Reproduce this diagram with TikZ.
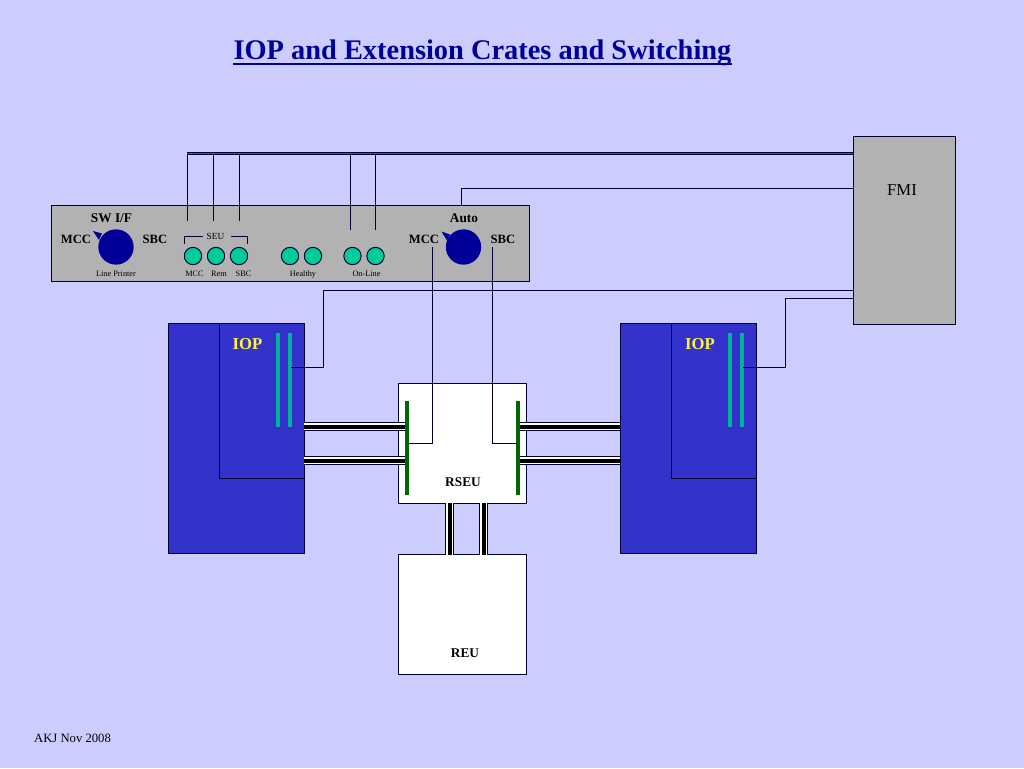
\documentclass[tikz,border=0pt]{standalone}
\usepackage{fontspec}
\setmainfont{Liberation Serif}
\definecolor{slidebg}{HTML}{CCCCFF}
\definecolor{panelgrey}{HTML}{B2B2B2}
\definecolor{iopblue}{HTML}{3333CC}
\definecolor{knobblue}{HTML}{000099}
\definecolor{ledteal}{HTML}{00CC99}
\definecolor{barteal}{HTML}{00B299}
\definecolor{bargreen}{HTML}{006600}
\definecolor{linenavy}{HTML}{000033}
\begin{document}
\begin{tikzpicture}[x=0.75pt, y=-0.75pt, line width=0.75pt,
	box/.style={draw=linenavy, rectangle, inner sep=0pt, outer sep=0pt},
	iopbox/.style={box, fill=iopblue, minimum width=102pt, minimum height=172.5pt},
	crate/.style={box, fill=white, minimum width=96pt, minimum height=89.5pt},
	tealbar/.style={rectangle, fill=barteal, inner sep=0pt, minimum width=3pt, minimum height=70.5pt},
	greenbar/.style={rectangle, fill=bargreen, inner sep=0pt, minimum width=3.4pt, minimum height=70.5pt},
	led/.style={circle, draw=linenavy, fill=ledteal, inner sep=0pt, minimum size=13pt},
	knob/.style={circle, fill=knobblue, inner sep=0pt, minimum size=26.5pt},
	wire/.style={draw=linenavy},
	topbus/.style={draw=linenavy, line width=0.9pt, double=linenavy!60!slidebg, double distance=0.6pt},
	bus/.style={preaction={draw=linenavy, line width=6.6pt}, preaction={draw=white, line width=5.2pt}, draw=black, line width=3pt},
	small/.style={font=\fontsize{6.2}{7}\selectfont},
	bold/.style={font=\fontsize{10}{12}\selectfont\bfseries},
	sidebold/.style={font=\fontsize{9.5}{11}\selectfont\bfseries},
	ioplabel/.style={font=\fontsize{12.5}{15}\selectfont\bfseries, text=yellow!80!white}]
	\fill[slidebg] (0,0) rectangle (1024,768);

	% boxes
	\node[box, fill=panelgrey, minimum width=358.5pt, minimum height=57pt] (panel) at (290,243) {};
	\node[box, fill=panelgrey, minimum width=76.5pt, minimum height=141pt] (fmi) at (904,230) {};
	\node[iopbox] (iopL) at (236,438) {};
	\node[iopbox] (iopR) at (688.5,438) {};
	\node[crate] (rseu) at (462,443.5) {};
	\node[crate] (reu) at (462,614.5) {};

	% links between the crates
	\coordinate (busLa) at (304,426.5);
	\coordinate (busLb) at (304,460.5);
	\coordinate (busRa) at (620,426.5);
	\coordinate (busRb) at (620,460.5);
	\coordinate (busDa) at (449.7,503);
	\coordinate (busDb) at (483.5,503);
	\node[greenbar] (greenL) at (407,448) {};
	\node[greenbar] (greenR) at (518,448) {};
	\draw[bus] (busLa) -- (busLa -| greenL.center);
	\draw[bus] (busLb) -- (busLb -| greenL.center);
	\draw[bus] (busRa) -- (busRa -| greenR.center);
	\draw[bus] (busRb) -- (busRb -| greenR.center);
	\draw[bus] (busDa) -- (busDa |- reu.north);
	\draw[bus] (busDb) -- (busDb |- reu.north);
	\node[greenbar] (greenLtop) at (greenL) {};
	\node[greenbar] (greenRtop) at (greenR) {};

	% inner card edges and card bars
	\coordinate (cardLtop) at (219,323);
	\coordinate (cardLend) at (304,478);
	\coordinate (cardRtop) at (671,323);
	\coordinate (cardRend) at (757,478);
	\draw[wire] (cardLtop) |- (cardLend);
	\draw[wire] (cardRtop) |- (cardRend);
	\node[tealbar] (tealLa) at (278,380) {};
	\node[tealbar] (tealLb) at (290,380) {};
	\node[tealbar] (tealRa) at (730,380) {};
	\node[tealbar] (tealRb) at (742,380) {};

	% bus from the FMI and its taps
	\coordinate (topstart) at (187,153.5);
	\coordinate (tapa) at (187,221);
	\coordinate (tapb) at (213,221);
	\coordinate (tapc) at (239,221);
	\coordinate (tapd) at (350,230);
	\coordinate (tape) at (375.5,230);
	\draw[wire] (tapa) -- (tapa |- topstart);
	\draw[wire] (tapb) -- (tapb |- topstart);
	\draw[wire] (tapc) -- (tapc |- topstart);
	\draw[wire] (tapd) -- (tapd |- topstart);
	\draw[wire] (tape) -- (tape |- topstart);
	\draw[topbus] (topstart) -- (topstart -| fmi.west);

	% single wires
	\coordinate (autotap) at (461,205);
	\coordinate (fmiauto) at (853,188);
	\coordinate (fmiL) at (853,290);
	\coordinate (fmiR) at (853,298);
	\coordinate (outL) at (291,367);
	\coordinate (outR) at (743,367);
	\coordinate (autoM) at (432.5,247);
	\coordinate (autoS) at (492.5,247);
	\coordinate (inM) at (409,443);
	\coordinate (inS) at (517,443);
	\draw[wire] (autotap) |- (fmiauto);
	\draw[wire] (outL) -- ++(32,0) |- (fmiL);
	\draw[wire] (outR) -- ++(42,0) |- (fmiR);
	\draw[wire] (autoM) |- (inM);
	\draw[wire] (autoS) |- (inS);

	% switches
	\node[knob] (knobA) at (116,247) {};
	\node[knob] (knobB) at (463.5,247) {};
	\fill[knobblue] (93,231) -- (102,233.5) -- (99,240) -- cycle;
	\fill[knobblue] (441.5,231.5) -- (450,234.5) -- (447,240.5) -- cycle;

	% lamps
	\node[led] (ledMCC) at (193,256) {};
	\node[led] (ledRem) at (216,256) {};
	\node[led] (ledSBC) at (239,256) {};
	\node[led] (ledHa) at (290,256) {};
	\node[led] (ledHb) at (313,256) {};
	\node[led] (ledOa) at (352.5,256) {};
	\node[led] (ledOb) at (375.5,256) {};

	% SEU bracket
	\coordinate (brLa) at (184,244);
	\coordinate (brLb) at (203,236);
	\coordinate (brRa) at (247,244);
	\coordinate (brRb) at (231,236);
	\draw[wire] (brLa) |- (brLb);
	\draw[wire] (brRa) |- (brRb);

	% texts
	\node[font=\fontsize{21.3}{25}\selectfont\bfseries, text=knobblue, anchor=base, inner xsep=0pt] (title) at (482.5,59.5) {IOP and Extension Crates and Switching};
	\draw[knobblue, line width=1.5pt] ([yshift=-3pt]title.base west) -- ([yshift=-3pt]title.base east);
	\node[font=\fontsize{12.5}{15}\selectfont] (fmitext) at (902,190) {FMI};
	\node[bold] (swif) at (111.5,218) {SW I/F};
	\node[sidebold] (mccA) at (76,239) {MCC};
	\node[sidebold] (sbcA) at (155,239) {SBC};
	\node[bold] (auto) at (464,218) {Auto};
	\node[sidebold] (mccB) at (424,239) {MCC};
	\node[sidebold] (sbcB) at (503,239) {SBC};
	\node[font=\fontsize{7}{8}\selectfont] (seu) at (215.5,236) {SEU};
	\node[small] (lineprinter) at (116,274) {Line Printer};
	\node[small] (lblMCC) at (194.5,274) {MCC};
	\node[small] (lblRem) at (219,274) {Rem};
	\node[small] (lblSBC) at (243.5,274) {SBC};
	\node[small] (lblhealthy) at (303,275) {Healthy};
	\node[small] (lblonline) at (366.5,274) {On-Line};
	\node[ioplabel] (ioptextL) at (247.5,344) {IOP};
	\node[ioplabel] (ioptextR) at (700,344) {IOP};
	\node[bold] (rseutext) at (463,482) {RSEU};
	\node[bold] (reutext) at (465,653) {REU};
	\node[font=\fontsize{9.5}{11}\selectfont] (akj) at (72.5,738) {AKJ Nov 2008};
\end{tikzpicture}
\end{document}
